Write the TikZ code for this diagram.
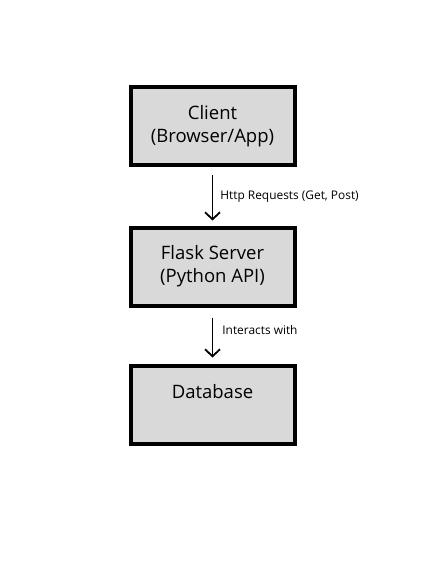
\documentclass[tikz,border=0pt]{standalone}
\usepackage{fontspec}
\setmainfont{Open Sans}
\usetikzlibrary{arrows.meta}

\tikzset{
  block/.style={draw=black, line width=4pt, fill=gray!30, minimum width=164pt,
    minimum height=78pt, inner sep=0pt, align=center,
    font=\fontsize{18.5}{23}\selectfont},
  flow/.style={line width=1.8pt, -{Straight Barb[length=7pt,width=15pt,line width=1.8pt]}},
  flowlabel/.style={font=\fontsize{11.9}{14}\selectfont, inner sep=0pt}
}

\begin{document}
\begin{tikzpicture}[x=1pt,y=-1pt]
\useasboundingbox (0,0) rectangle (436,561);
\node[block] (client) at (212.5,126) {Client\\(Browser/App)};
\node[block] (flask) at (212.5,266.5) {Flask Server\\(Python API)};
\node[block] (db) at (212.5,404.5) {Database\\\phantom{(Database)}};
\draw[flow, shorten <=8pt, shorten >=5pt] (client) -- (flask)
  node[flowlabel, midway, right=7pt] (httplbl) {Http Requests (Get, Post)};
\draw[flow, shorten <=10pt, shorten >=6pt] (flask) -- (db)
  node[flowlabel, midway, right=9pt, yshift=5pt] (interlbl) {Interacts with};
\end{tikzpicture}
\end{document}
